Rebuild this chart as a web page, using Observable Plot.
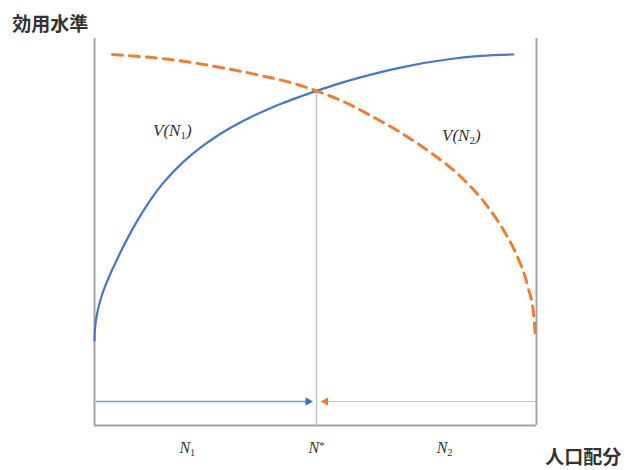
<!DOCTYPE html>
<html>
<head>
<meta charset="utf-8">
<script src="https://cdn.jsdelivr.net/npm/d3@7"></script>
<script src="https://cdn.jsdelivr.net/npm/@observablehq/plot@0.6"></script>
<style>
  html, body { margin: 0; padding: 0; background: #fff; }
  #chart svg { display: block; }
</style>
</head>
<body>
<div id="chart"></div>
<script>
// Utility of region 1 as its population share grows (left to right).
const v1X = [0, 0.06, 0.23, 0.45, 0.91, 1.36, 2.04, 2.94, 5.20, 7.47, 9.73, 11.99, 14.25, 16.74, 19.46, 21.72, 23.98, 27.38, 30.77, 35.29, 37.56, 42.08, 46.61, 50.23, 55.66, 60.18, 69.23, 80.54, 87.33, 94.80];
const v1Y = [21.96, 24.11, 26.25, 28.04, 30.57, 32.51, 34.86, 37.47, 43.15, 48.35, 53.00, 57.16, 60.83, 64.24, 67.42, 69.74, 71.81, 74.55, 76.93, 79.66, 80.85, 83.07, 85.01, 86.46, 88.48, 89.95, 92.48, 94.70, 95.50, 95.87];

// Utility of region 2, whose population is measured from the right edge.
const v2X = [4.07, 17.19, 28.51, 37.56, 44.34, 50.23, 56.79, 62.44, 69.23, 76.02, 82.81, 89.59, 92.99, 95.25, 97.96, 99.32, 99.77];
const v2Y = [95.87, 94.57, 92.51, 90.44, 88.63, 86.46, 83.46, 80.10, 75.71, 70.54, 64.34, 55.56, 49.61, 44.70, 36.18, 28.94, 22.74];

// Equilibrium allocation and the utility level reached there.
const nStar = 50.23;
const uStar = 86.46;

// Bottom tick positions and their labels ("_" subscript, "^" superscript).
const tickPos = [21, nStar, 79.2];
const tickLabels = ["N_1", "N^*", "N_2"];

// Curve labels.
const curveLabels = [
  {x: 17.6, y: 76.2, text: "V(N_1)"},
  {x: 83.0, y: 74.9, text: "V(N_2)"}
];

// Migration arrows toward the equilibrium.
const arrowRows = [
  {x1: 0.3, x2: 48.3, y: 6.2, dir: 90, color: "#6aa3da", head: "#2f74bd", width: 1.6},
  {x1: 100, x2: 52.3, y: 6.2, dir: -90, color: "#f7b48a", head: "#ee7e33", width: 1.2}
];

const axisTitles = [
  {x: -18.6, y: 103.6, text: "効用水準"},
  {x: 102.0, y: -8.3, text: "人口配分"}
];

const v1 = v1X.map((x, i) => ({x, y: v1Y[i]}));
const v2 = v2X.map((x, i) => ({x, y: v2Y[i]}));

const serif = "'Liberation Serif', 'DejaVu Serif', serif";

const chart = Plot.plot({
  width: 633,
  height: 470,
  marginLeft: 94,
  marginRight: 97,
  marginTop: 38,
  marginBottom: 45,
  x: {domain: [0, 100]},
  y: {domain: [0, 100], axis: null},
  style: {background: "#fff", overflow: "visible"},
  marks: [
    // frame: left, right, bottom
    Plot.ruleX([0, 100], {y1: 0, y2: 100, stroke: "#a3a3a3", strokeWidth: 2}),
    Plot.ruleY([0], {x1: 0, x2: 100, stroke: "#a3a3a3", strokeWidth: 2}),
    // equilibrium line
    Plot.ruleX([nStar], {y1: 0, y2: uStar, stroke: "#c4c4c4", strokeWidth: 1.5}),
    Plot.line(v1, {x: "x", y: "y", curve: "monotone-x", stroke: "#4a76c9", strokeWidth: 2.2}),
    Plot.line(v2, {x: "x", y: "y", curve: "monotone-x", stroke: "#ee7e33", strokeWidth: 3, strokeDasharray: "10,7"}),
    // arrow shafts and filled heads
    Plot.link(arrowRows, {
      x1: "x1", x2: "x2", y1: "y", y2: "y",
      stroke: d => d.color, strokeWidth: d => d.width
    }),
    Plot.dot(arrowRows, {
      x: "x2", y: "y", symbol: "triangle", rotate: "dir",
      r: 3.2, fill: d => d.head, stroke: "none"
    }),
    Plot.text(curveLabels, {
      x: "x", y: "y", text: "text",
      fontFamily: serif,
      fontStyle: "italic", fontSize: 17, fill: "#333"
    }),
    Plot.text(axisTitles, {
      x: "x", y: "y", text: "text", textAnchor: "start",
      fontFamily: "'Noto Sans CJK JP', sans-serif", fontWeight: "bold",
      fontSize: 19, fill: "#333"
    }),
    Plot.axisX({
      ticks: tickPos,
      tickFormat: (d, i) => tickLabels[i],
      tickSize: 0,
      tickPadding: 16,
      fontSize: 16,
      fontFamily: serif,
      fontStyle: "italic",
      fill: "#333",
      label: null
    })
  ]
});

// Turn "_x" and "^x" into subscript / superscript tspans.
function scriptify(svg) {
  svg.querySelectorAll("text").forEach(t => {
    const s = t.textContent;
    if (!/[_^]/.test(s) || t.querySelector("tspan")) return;
    t.textContent = "";
    const ns = "http://www.w3.org/2000/svg";
    let i = 0;
    while (i < s.length) {
      const c = s[i];
      const span = document.createElementNS(ns, "tspan");
      if ((c === "_" || c === "^") && i + 1 < s.length) {
        span.textContent = s[i + 1];
        span.setAttribute("font-size", "65%");
        span.setAttribute("baseline-shift", c === "_" ? "-30%" : "40%");
        span.setAttribute("font-style", "normal");
        i += 2;
      } else {
        let j = i;
        while (j < s.length && s[j] !== "_" && s[j] !== "^") j++;
        span.textContent = s.slice(i, j);
        i = j;
      }
      t.appendChild(span);
    }
  });
}
scriptify(chart);
document.getElementById("chart").append(chart);
</script>
</body>
</html>
